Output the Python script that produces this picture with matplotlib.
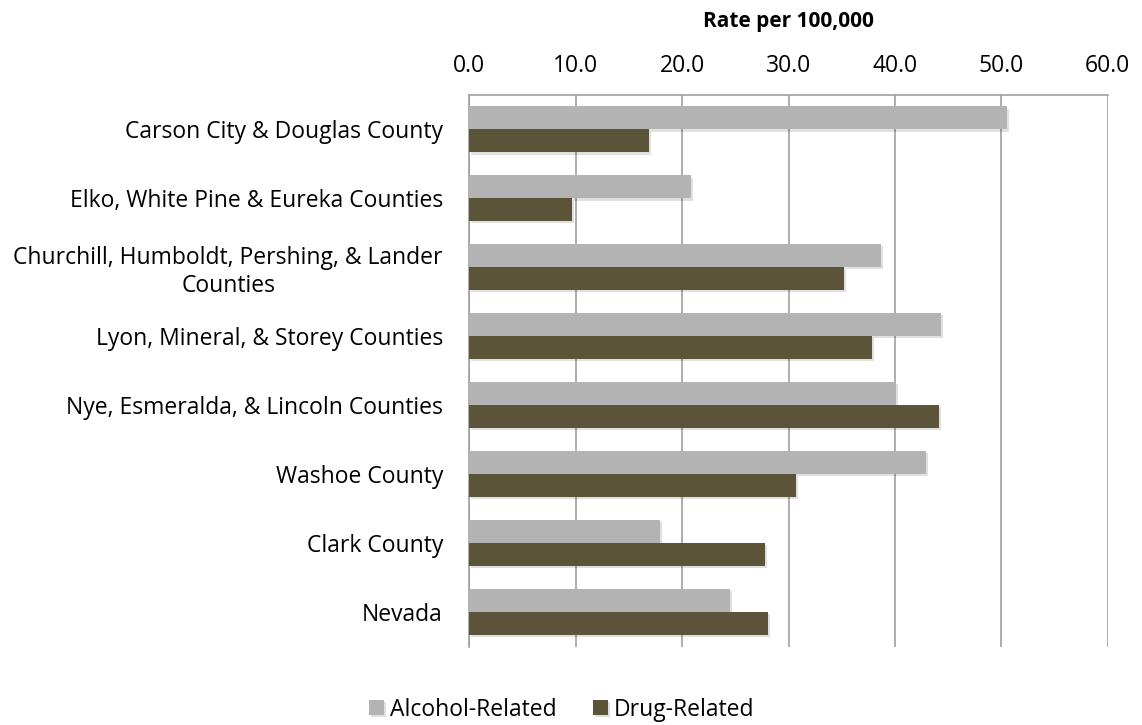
import matplotlib.pyplot as plt
import matplotlib.patheffects as pe
import numpy as np

plt.rcParams['font.family'] = ['Open Sans', 'DejaVu Sans']

regions = ["Carson City & Douglas County",
           "Elko, White Pine & Eureka Counties",
           "Churchill, Humboldt, Pershing, & Lander\nCounties",
           "Lyon, Mineral, & Storey Counties",
           "Nye, Esmeralda, & Lincoln Counties",
           "Washoe County",
           "Clark County",
           "Nevada"]
alcohol = [50.5, 20.8, 38.7, 44.3, 40.1, 42.9, 17.9, 24.5]
drug = [16.9, 9.6, 35.2, 37.8, 44.1, 30.7, 27.8, 28.1]
xticks = [0, 10, 20, 30, 40, 50, 60]

c_alc = "#b3b3b3"
c_drug = "#5c5438"
grid_c = "#a0a0a0"
fs = 16.5

fig = plt.figure(figsize=(11.42, 7.25), dpi=100)
ax = fig.add_axes([0.411, 0.108, 0.559, 0.761])

y = np.arange(len(regions))
h = 1 / 3
shadow = [pe.SimplePatchShadow(offset=(1.5, -1.5), alpha=0.12, shadow_rgbFace="#000000"), pe.Normal()]
b1 = ax.barh(y - h / 2, alcohol, height=h, color=c_alc, label="Alcohol-Related", zorder=3)
b2 = ax.barh(y + h / 2, drug, height=h, color=c_drug, label="Drug-Related", zorder=3)
for b in list(b1) + list(b2):
    b.set_path_effects(shadow)

ax.set_ylim(len(regions) - 0.5, -0.5)
ax.set_xlim(0, 60)
ax.set_xticks(xticks)
ax.set_xticklabels([f"{v:.1f}" for v in xticks], fontsize=fs)
ax.xaxis.tick_top()
ax.xaxis.set_label_position("top")
ax.set_xlabel("Rate per 100,000", fontsize=fs - 1.5, fontweight="bold", labelpad=20)
ax.tick_params(axis="x", length=0, pad=12)
ax.tick_params(axis="y", length=0, pad=19)
ax.set_yticks(y)
ax.set_yticklabels(regions, fontsize=fs, multialignment="center")

ax.grid(axis="x", color=grid_c, linewidth=1.2, zorder=0)
for s in ["right", "bottom"]:
    ax.spines[s].set_visible(False)
for s in ["left", "top"]:
    ax.spines[s].set_color(grid_c)
    ax.spines[s].set_linewidth(1.2)

fig.legend(handles=[b1, b2], loc="lower center", bbox_to_anchor=(0.492, -0.024), ncol=2,
           frameon=False, fontsize=fs, handlelength=0.65, handleheight=0.65,
           handletextpad=0.25, columnspacing=1.6)

fig.savefig("out.png", dpi=100)
